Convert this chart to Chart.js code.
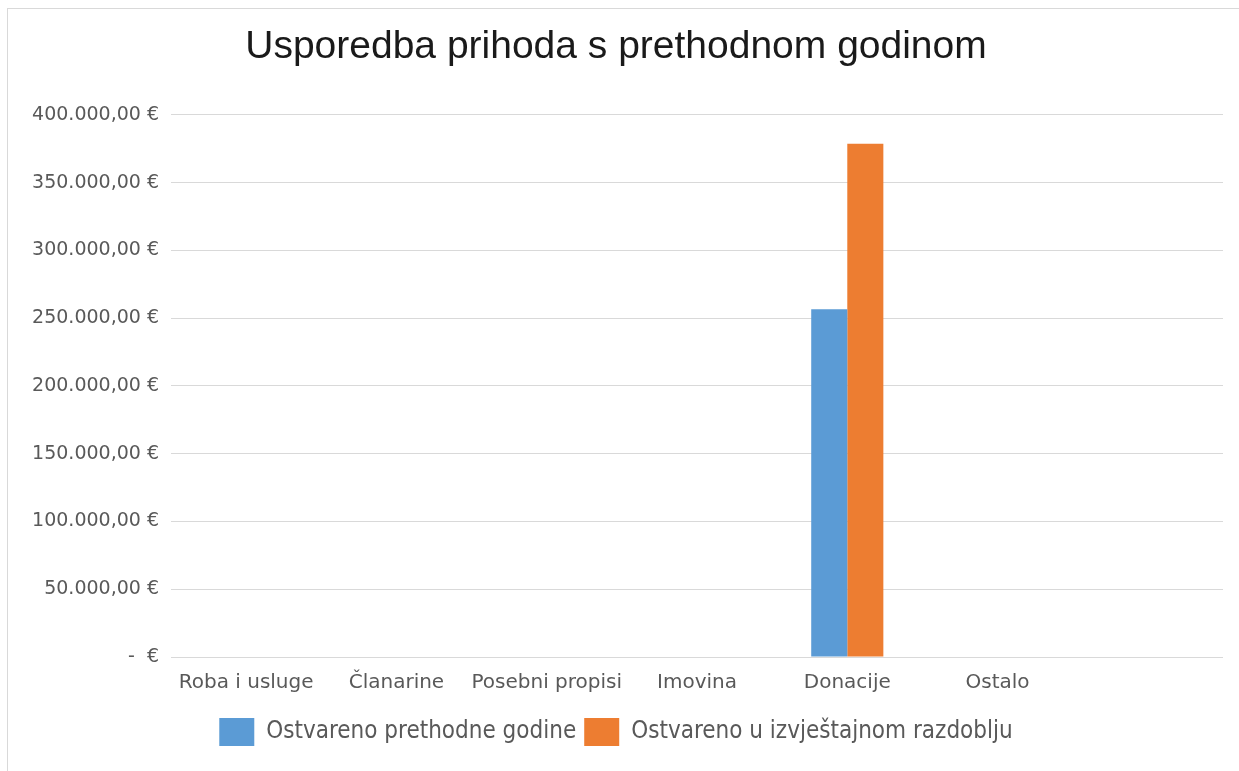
<!DOCTYPE html>
<html>
<head>
<meta charset="utf-8">
<script src="https://cdn.jsdelivr.net/npm/chart.js@4/dist/chart.umd.min.js"></script>
<style>
  body { margin: 0; background: #fff; }
  #box { position: absolute; left: 7px; top: 8px; width: 1240px; height: 770px; border: 1px solid #d9d9d9; }
  #wrap { position: absolute; left: 1px; top: 1px; width: 1230px; height: 762px; }
</style>
</head>
<body>
<div id="box"><div id="wrap"><canvas id="prihodi"></canvas></div></div>
<script>
const categories = ["Roba i usluge", "Članarine", "Posebni propisi", "Imovina", "Donacije", "Ostalo", ""];
const prethodneGodine = [0, 0, 0, 0, 256600, 0, 0];
const izvjestajnoRazdoblje = [0, 0, 0, 0, 378700, 0, 0];
const yTicks = [0, 50000, 100000, 150000, 200000, 250000, 300000, 350000, 400000];

function euro(v) {
  if (v === 0) return "-  €";
  const s = Math.round(v).toString().replace(/\B(?=(\d{3})+(?!\d))/g, ".");
  return s + ",00 €";
}

const txt = "#595959";
const font = "'DejaVu Sans', Tahoma, sans-serif";

new Chart(document.getElementById("prihodi"), {
  type: "bar",
  data: {
    labels: categories,
    datasets: [
      { label: "Ostvareno prethodne godine", data: prethodneGodine, backgroundColor: "#5B9BD5" },
      { label: "Ostvareno u izvještajnom razdoblju", data: izvjestajnoRazdoblje, backgroundColor: "#ED7D31" }
    ]
  },
  options: {
    responsive: true,
    maintainAspectRatio: false,
    animation: false,
    categoryPercentage: 0.48,
    barPercentage: 1,
    layout: { padding: { left: 0, right: 16, top: 6, bottom: 16 } },
    plugins: {
      title: {
        display: true,
        text: "Usporedba prihoda s prethodnom godinom",
        color: "#1a1a1a",
        font: { family: "'Liberation Sans', Arial, sans-serif", size: 39, weight: "normal" },
        padding: { top: 8, bottom: 44 }
      },
      legend: {
        position: "bottom",
        labels: {
          color: txt,
          font: { family: "'DejaVu Sans Condensed', 'DejaVu Sans', sans-serif", size: 24 },
          boxWidth: 35,
          boxHeight: 28,
          padding: 8
        }
      },
      tooltip: { enabled: false }
    },
    scales: {
      x: {
        grid: { display: false },
        border: { display: false },
        afterFit: s => { s.height += 9; },
        ticks: { color: txt, font: { family: font, size: 20 }, padding: 6, maxRotation: 0, autoSkip: false }
      },
      y: {
        min: 0,
        max: 400000,
        afterBuildTicks: s => { s.ticks = yTicks.map(v => ({ value: v })); },
        afterFit: s => { s.width = 162; },
        grid: { color: "#d9d9d9", drawTicks: false },
        border: { display: false },
        ticks: { color: txt, font: { family: font, size: 19 }, padding: 12, callback: v => euro(v) }
      }
    }
  }
});
</script>
</body>
</html>
